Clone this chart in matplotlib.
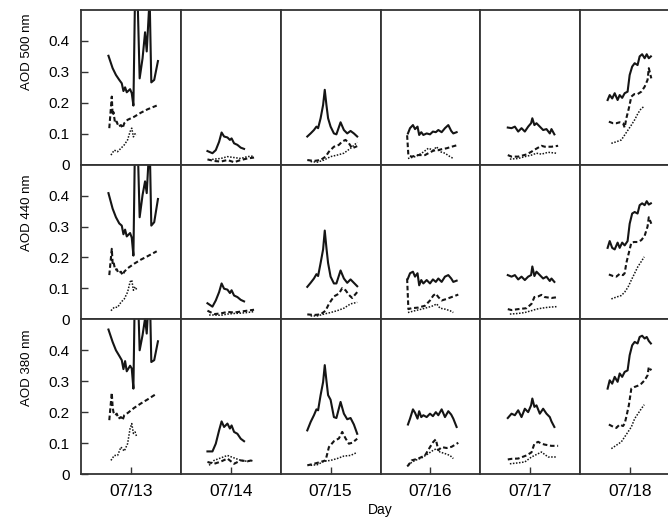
import matplotlib.pyplot as plt
from matplotlib.ticker import FixedLocator, FuncFormatter

plt.rcParams['font.family'] = ['Liberation Sans', 'DejaVu Sans']

days = ["07/13", "07/14", "07/15", "07/16", "07/17", "07/18"]
wavelengths = ["500", "440", "380"]
y_ticks = [0, 0.1, 0.2, 0.3, 0.4]

# hours of day (UTC) and AOD values
# s = solid, d = dashed, p = dotted

# 07/13
t13_s = [6.6, 7.6, 8.4, 9.2, 9.8, 10.2, 10.6, 11.0, 11.8, 12.2, 12.6, 13.0, 13.6, 14.1, 14.8, 15.4, 15.8, 16.5, 16.9, 17.6, 18.5]
a500_13_s = [0.352, 0.312, 0.29, 0.274, 0.263, 0.238, 0.25, 0.234, 0.244, 0.231, 0.191, 0.56, 0.54, 0.279, 0.344, 0.428, 0.366, 0.54, 0.266, 0.274, 0.335]
a440_13_s = [0.408, 0.358, 0.33, 0.31, 0.303, 0.275, 0.29, 0.268, 0.279, 0.264, 0.206, 0.6, 0.58, 0.33, 0.402, 0.446, 0.408, 0.58, 0.303, 0.314, 0.389]
a380_13_s = [0.467, 0.427, 0.40, 0.382, 0.368, 0.339, 0.365, 0.332, 0.35, 0.341, 0.276, 0.65, 0.62, 0.40, 0.449, 0.503, 0.454, 0.62, 0.362, 0.368, 0.429]
t13_d = [6.8, 7.4, 7.6, 7.8, 8.2, 8.6, 9.0, 9.6, 10.0, 10.4, 11.2, 12.8, 14.4, 16.0, 18.2]
a500_13_d = [0.118, 0.22, 0.16, 0.17, 0.134, 0.139, 0.123, 0.128, 0.118, 0.134, 0.145, 0.155, 0.168, 0.179, 0.191]
a440_13_d = [0.143, 0.228, 0.182, 0.187, 0.16, 0.162, 0.149, 0.154, 0.143, 0.154, 0.165, 0.18, 0.193, 0.204, 0.22]
a380_13_d = [0.174, 0.263, 0.217, 0.2, 0.19, 0.195, 0.179, 0.184, 0.174, 0.19, 0.197, 0.214, 0.228, 0.241, 0.26]
t13_p = [7.2, 8.0, 8.8, 9.6, 10.4, 11.2, 11.8, 12.2, 12.6, 13.0, 13.4]
a500_13_p = [0.031, 0.047, 0.042, 0.053, 0.064, 0.08, 0.107, 0.118, 0.09, 0.10, 0.096]
a440_13_p = [0.028, 0.039, 0.039, 0.055, 0.066, 0.088, 0.121, 0.127, 0.094, 0.105, 0.096]
a380_13_p = [0.044, 0.06, 0.06, 0.087, 0.074, 0.098, 0.147, 0.163, 0.131, 0.136, 0.12]

# 07/14
t14_s = [6.4, 7.6, 8.4, 9.2, 9.8, 10.4, 11.2, 11.8, 12.2, 12.8, 13.6, 14.4, 15.2]
a500_14_s = [0.044, 0.037, 0.047, 0.074, 0.104, 0.091, 0.088, 0.08, 0.085, 0.069, 0.064, 0.055, 0.051]
a440_14_s = [0.052, 0.041, 0.061, 0.088, 0.116, 0.099, 0.096, 0.085, 0.094, 0.077, 0.072, 0.063, 0.058]
a380_14_s = [0.073, 0.073, 0.098, 0.141, 0.17, 0.152, 0.163, 0.147, 0.157, 0.136, 0.13, 0.114, 0.106]
t14_d = [6.4, 8.0, 9.6, 11.2, 12.8, 14.4, 16.0, 17.6]
a500_14_d = [0.017, 0.012, 0.01, 0.015, 0.008, 0.015, 0.02, 0.023]
a440_14_d = [0.028, 0.017, 0.019, 0.024, 0.022, 0.025, 0.028, 0.031]
a380_14_d = [0.039, 0.033, 0.04, 0.05, 0.033, 0.044, 0.041, 0.046]
t14_p = [6.8, 8.0, 9.6, 11.2, 12.8, 14.4, 16.0, 17.6]
a500_14_p = [0.015, 0.018, 0.02, 0.026, 0.023, 0.02, 0.026, 0.028]
a440_14_p = [0.014, 0.014, 0.013, 0.017, 0.019, 0.02, 0.022, 0.025]
a380_14_p = [0.028, 0.044, 0.052, 0.06, 0.052, 0.044, 0.041, 0.044]

# 07/15
t15_s = [6.4, 7.2, 8.0, 8.6, 9.0, 9.6, 10.2, 10.6, 11.0, 11.4, 12.0, 12.8, 13.4, 14.4, 15.2, 16.0, 16.8, 17.6, 18.4]
a500_15_s = [0.091, 0.101, 0.112, 0.123, 0.118, 0.15, 0.193, 0.242, 0.193, 0.15, 0.123, 0.101, 0.098, 0.137, 0.112, 0.101, 0.109, 0.101, 0.091]
a440_15_s = [0.105, 0.118, 0.132, 0.146, 0.14, 0.182, 0.226, 0.287, 0.231, 0.182, 0.138, 0.116, 0.116, 0.158, 0.132, 0.118, 0.129, 0.118, 0.107]
a380_15_s = [0.141, 0.168, 0.19, 0.209, 0.206, 0.255, 0.297, 0.352, 0.302, 0.255, 0.24, 0.184, 0.181, 0.233, 0.195, 0.177, 0.181, 0.16, 0.13]
t15_d = [6.4, 8.0, 9.6, 10.8, 11.6, 12.8, 14.0, 14.8, 15.6, 16.4, 17.2, 18.4]
a500_15_d = [0.015, 0.012, 0.015, 0.026, 0.042, 0.058, 0.064, 0.075, 0.08, 0.069, 0.053, 0.06]
a440_15_d = [0.016, 0.014, 0.016, 0.028, 0.05, 0.074, 0.083, 0.101, 0.094, 0.079, 0.069, 0.088]
a380_15_d = [0.028, 0.033, 0.039, 0.044, 0.087, 0.106, 0.115, 0.136, 0.115, 0.098, 0.101, 0.114]
t15_p = [7.2, 8.8, 10.4, 12.0, 13.6, 15.2, 16.8, 18.4]
a500_15_p = [0.01, 0.008, 0.015, 0.026, 0.031, 0.037, 0.053, 0.072]
a440_15_p = [0.011, 0.011, 0.017, 0.022, 0.028, 0.036, 0.05, 0.055]
a380_15_p = [0.028, 0.03, 0.041, 0.044, 0.05, 0.058, 0.06, 0.07]

# 07/16
t16_s = [6.6, 7.1, 7.8, 8.3, 8.9, 9.3, 9.8, 10.3, 11.1, 11.9, 12.6, 13.3, 13.9, 14.7, 15.5, 16.3, 17.0, 17.5, 18.3]
a500_16_s = [0.101, 0.118, 0.128, 0.115, 0.123, 0.096, 0.105, 0.096, 0.101, 0.098, 0.107, 0.105, 0.112, 0.105, 0.118, 0.128, 0.109, 0.101, 0.105]
a440_16_s = [0.132, 0.149, 0.154, 0.138, 0.149, 0.11, 0.127, 0.116, 0.127, 0.116, 0.129, 0.121, 0.132, 0.121, 0.138, 0.143, 0.132, 0.121, 0.125]
a380_16_s = [0.16, 0.179, 0.209, 0.198, 0.179, 0.203, 0.184, 0.19, 0.184, 0.195, 0.187, 0.2, 0.19, 0.209, 0.184, 0.203, 0.192, 0.179, 0.152]
t16_d = [6.4, 6.7, 7.5, 9.1, 10.7, 11.9, 12.7, 13.3, 13.9, 14.7, 15.9, 17.1, 18.7]
a500_16_d = [0.095, 0.03, 0.026, 0.031, 0.031, 0.04, 0.045, 0.047, 0.047, 0.05, 0.053, 0.058, 0.064]
a440_16_d = [0.132, 0.033, 0.036, 0.038, 0.044, 0.061, 0.077, 0.083, 0.072, 0.061, 0.066, 0.072, 0.08]
a380_16_d = [0.025, 0.028, 0.044, 0.05, 0.06, 0.087, 0.104, 0.112, 0.077, 0.087, 0.084, 0.088, 0.101]
t16_p = [6.6, 8.3, 9.9, 11.5, 12.7, 13.5, 14.3, 15.5, 16.7, 17.5]
a500_16_p = [0.02, 0.026, 0.037, 0.053, 0.047, 0.058, 0.042, 0.037, 0.026, 0.02]
a440_16_p = [0.022, 0.028, 0.033, 0.039, 0.044, 0.05, 0.036, 0.033, 0.028, 0.022]
a380_16_p = [0.03, 0.044, 0.052, 0.066, 0.077, 0.082, 0.071, 0.066, 0.06, 0.05]

# 07/17
t17_s = [6.6, 7.5, 8.3, 9.1, 9.9, 10.7, 11.5, 12.2, 12.5, 13.0, 13.5, 14.3, 15.1, 15.9, 16.7, 17.1, 17.8]
a500_17_s = [0.12, 0.118, 0.123, 0.107, 0.118, 0.107, 0.123, 0.134, 0.15, 0.128, 0.134, 0.123, 0.112, 0.115, 0.101, 0.115, 0.098]
a440_17_s = [0.143, 0.138, 0.143, 0.129, 0.138, 0.127, 0.138, 0.143, 0.171, 0.14, 0.154, 0.143, 0.132, 0.138, 0.124, 0.132, 0.121]
a380_17_s = [0.181, 0.195, 0.19, 0.206, 0.184, 0.211, 0.2, 0.222, 0.244, 0.217, 0.222, 0.195, 0.211, 0.195, 0.184, 0.17, 0.152]
t17_d = [6.6, 7.5, 9.1, 11.1, 12.3, 13.0, 13.9, 14.7, 15.5, 17.1, 18.7]
a500_17_d = [0.031, 0.026, 0.026, 0.033, 0.042, 0.048, 0.055, 0.061, 0.058, 0.058, 0.061]
a440_17_d = [0.033, 0.03, 0.033, 0.036, 0.05, 0.072, 0.074, 0.079, 0.072, 0.069, 0.072]
a380_17_d = [0.047, 0.049, 0.05, 0.06, 0.07, 0.098, 0.104, 0.098, 0.095, 0.091, 0.091]
t17_p = [7.1, 9.1, 10.7, 12.3, 13.5, 14.7, 16.3, 18.3]
a500_17_p = [0.018, 0.02, 0.026, 0.031, 0.037, 0.034, 0.04, 0.037]
a440_17_p = [0.017, 0.019, 0.022, 0.028, 0.033, 0.036, 0.039, 0.041]
a380_17_p = [0.033, 0.036, 0.039, 0.055, 0.063, 0.071, 0.055, 0.055]

# 07/18
t18_s = [6.6, 7.1, 7.7, 8.3, 9.0, 9.5, 10.1, 10.7, 11.4, 11.9, 12.5, 13.1, 13.8, 14.3, 14.9, 15.5, 16.0, 16.5, 17.0]
a500_18_s = [0.209, 0.225, 0.214, 0.231, 0.209, 0.225, 0.216, 0.231, 0.236, 0.29, 0.317, 0.328, 0.322, 0.35, 0.357, 0.344, 0.357, 0.344, 0.35]
a440_18_s = [0.231, 0.253, 0.231, 0.226, 0.248, 0.231, 0.248, 0.239, 0.253, 0.309, 0.342, 0.347, 0.342, 0.369, 0.375, 0.369, 0.382, 0.371, 0.375]
a380_18_s = [0.276, 0.303, 0.292, 0.314, 0.298, 0.325, 0.314, 0.33, 0.335, 0.384, 0.416, 0.427, 0.422, 0.443, 0.447, 0.438, 0.443, 0.43, 0.422]
t18_d = [6.9, 7.9, 8.7, 9.5, 10.3, 10.7, 11.1, 11.7, 12.3, 13.0, 13.8, 14.7, 15.5, 16.2, 16.5, 17.1]
a500_18_d = [0.139, 0.134, 0.134, 0.137, 0.134, 0.12, 0.15, 0.182, 0.22, 0.228, 0.228, 0.236, 0.252, 0.274, 0.312, 0.279]
a440_18_d = [0.145, 0.14, 0.138, 0.147, 0.143, 0.149, 0.182, 0.215, 0.248, 0.25, 0.25, 0.256, 0.27, 0.3, 0.33, 0.309]
a380_18_d = [0.16, 0.153, 0.149, 0.16, 0.155, 0.163, 0.185, 0.222, 0.276, 0.281, 0.285, 0.292, 0.303, 0.319, 0.346, 0.335]
t18_p = [7.5, 8.7, 9.9, 10.7, 11.5, 12.3, 13.1, 13.9, 14.7, 15.4]
a500_18_p = [0.069, 0.074, 0.08, 0.096, 0.112, 0.128, 0.145, 0.166, 0.182, 0.188]
a440_18_p = [0.066, 0.072, 0.077, 0.088, 0.104, 0.127, 0.149, 0.171, 0.187, 0.202]
a380_18_p = [0.082, 0.093, 0.104, 0.12, 0.136, 0.152, 0.179, 0.195, 0.211, 0.224]

g = globals()
line_styles = {
    "s": dict(linestyle="-", lw=1.5),
    "d": dict(linestyle=(0, (2.2, 1.3)), lw=1.5),
    "p": dict(linestyle=(0, (1, 1)), lw=1.1),
}
label_y = [0.73, 0.69, 0.69]

fig, axes = plt.subplots(3, 6, figsize=(6.68, 5.22), dpi=100)
fig.subplots_adjust(left=81 / 668, right=680 / 668, top=1 - 10 / 522,
                    bottom=1 - 474 / 522, wspace=0, hspace=0)

for r, wl in enumerate(wavelengths):
    for c, day in enumerate(days):
        ax = axes[r, c]
        key = day[-2:]
        for s, style in line_styles.items():
            t = g["t%s_%s" % (key, s)]
            v = g["a%s_%s_%s" % (wl, key, s)]
            ax.plot(t, v, color="#151515", **style)
        ax.set_xlim(0, 24)
        ax.set_ylim(0, 0.5)
        for sp in ax.spines.values():
            sp.set_linewidth(1.3)
            sp.set_color("#333333")
        ax.xaxis.set_major_locator(FixedLocator([12]))
        ax.xaxis.set_major_formatter(FuncFormatter(lambda x, p, d=day: d))
        ax.yaxis.set_major_locator(FixedLocator(y_ticks))
        ax.yaxis.set_major_formatter(FuncFormatter(lambda y, p: "%g" % y))
        ax.tick_params(direction="in", length=5, width=1.0, color="#333333",
                       pad=8)
        ax.tick_params(axis="y", labelsize=11)
        ax.tick_params(axis="x", labelsize=12.5, pad=7)
        if c > 0:
            ax.tick_params(axis="y", length=0, labelleft=False)
        if r < 2:
            ax.tick_params(axis="x", length=0, labelbottom=False)
    axes[r, 0].set_ylabel("AOD %s nm" % wl, fontsize=9.5)
    axes[r, 0].yaxis.set_label_coords(-0.48, label_y[r])

fig.text((81 + 680) / 2 / 668, 1 - 510 / 522, "Day", ha="center",
         va="center", fontsize=10)

fig.savefig("out.png", dpi=100)
